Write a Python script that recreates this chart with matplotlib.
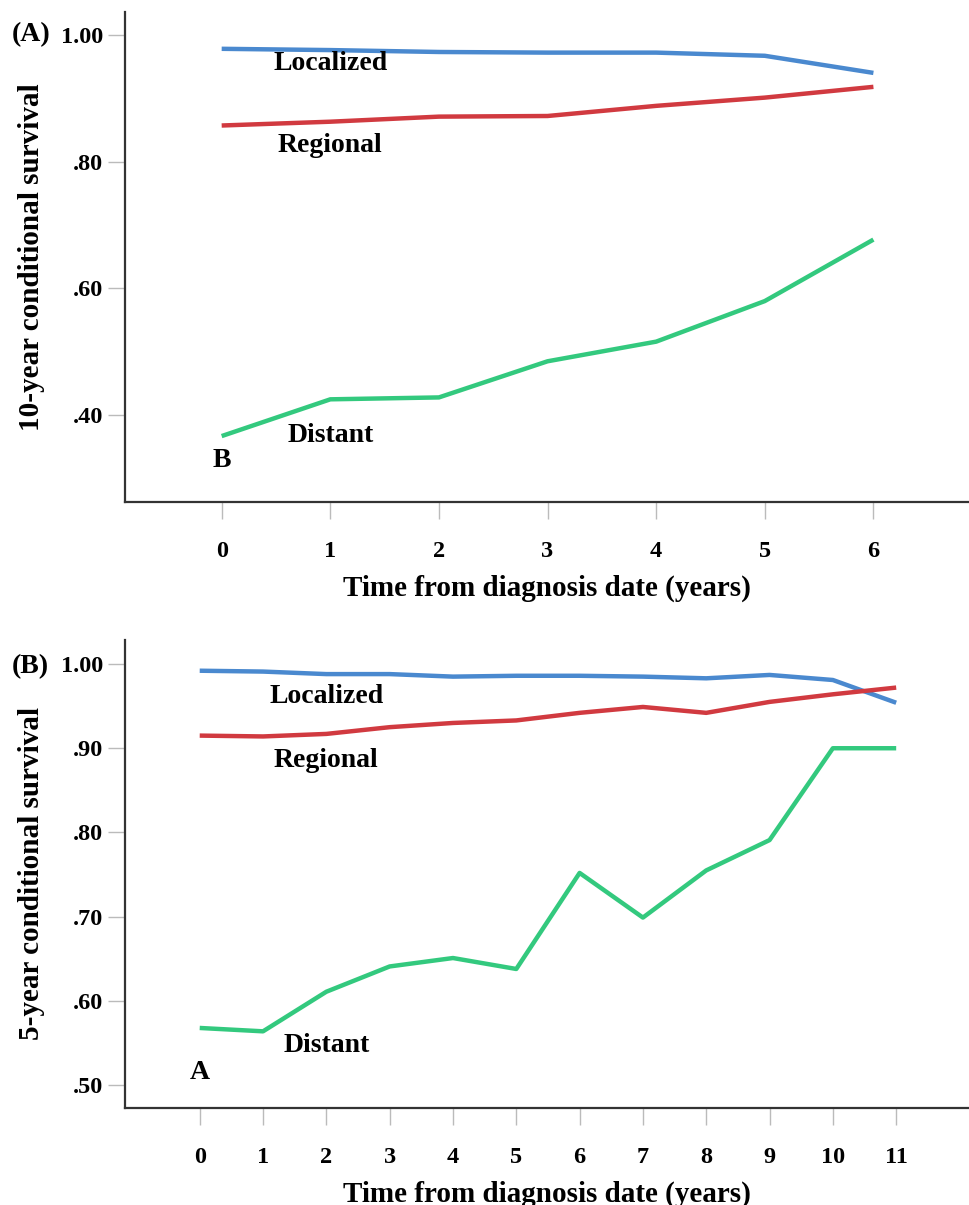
import matplotlib.pyplot as plt

plt.rcParams['font.family'] = ['Liberation Serif', 'DejaVu Serif']
plt.rcParams['font.weight'] = 'bold'

# panel A: 10-year conditional survival
years_a = [0, 1, 2, 3, 4, 5, 6]
localized_a = [0.978, 0.976, 0.973, 0.972, 0.972, 0.967, 0.940]
regional_a = [0.857, 0.863, 0.871, 0.872, 0.888, 0.901, 0.918]
distant_a = [0.367, 0.425, 0.428, 0.485, 0.516, 0.580, 0.677]
yticks_a = [0.40, 0.60, 0.80, 1.00]

# panel B: 5-year conditional survival
years_b = [0, 1, 2, 3, 4, 5, 6, 7, 8, 9, 10, 11]
localized_b = [0.992, 0.991, 0.988, 0.988, 0.985, 0.986, 0.986, 0.985, 0.983, 0.987, 0.981, 0.954]
regional_b = [0.915, 0.914, 0.917, 0.925, 0.930, 0.933, 0.942, 0.949, 0.942, 0.955, 0.964, 0.972]
distant_b = [0.568, 0.564, 0.611, 0.641, 0.651, 0.638, 0.752, 0.699, 0.755, 0.791, 0.900, 0.900]
yticks_b = [0.50, 0.60, 0.70, 0.80, 0.90, 1.00]

BLUE = '#4a89cf'
RED = '#d13a40'
GREEN = '#33c97e'


def fmt(v):
    return '1.00' if v >= 1 else ('%.2f' % v)[1:]


def draw(ax, x, loc, reg, dist, yticks, ylim, xlim, ylabel, tag, letter, lab_x, lab_y):
    ax.plot(x, loc, color=BLUE, lw=3.2, solid_capstyle='butt')
    ax.plot(x, reg, color=RED, lw=3.2, solid_capstyle='butt')
    ax.plot(x, dist, color=GREEN, lw=3.2, solid_capstyle='butt')
    ax.set_xlim(*xlim)
    ax.set_ylim(*ylim)
    ax.set_xticks(x)
    ax.set_yticks(yticks)
    ax.set_yticklabels([fmt(v) for v in yticks])
    for s in ['top', 'right']:
        ax.spines[s].set_visible(False)
    for s in ['left', 'bottom']:
        ax.spines[s].set_color('#333333')
        ax.spines[s].set_linewidth(1.6)
    ax.tick_params(axis='both', colors='#bbbbbb', labelcolor='black',
                   labelsize=17.5, length=12, width=1)
    ax.tick_params(axis='x', pad=16)
    ax.tick_params(axis='y', pad=4)
    for t in ax.get_xticklabels() + ax.get_yticklabels():
        t.set_fontweight('bold')
    ax.set_ylabel(ylabel, fontsize=21, fontweight='bold', labelpad=11)
    ax.set_xlabel('Time from diagnosis date (years)', fontsize=21,
                  fontweight='bold', labelpad=9)
    for txt, yy in zip(['Localized', 'Regional', 'Distant'], lab_y):
        ax.text(lab_x, yy, txt, fontsize=20, fontweight='bold',
                ha='center', va='center')
    ax.text(0, letter, tag[1], fontsize=20, fontweight='bold',
            ha='center', va='center')


fig = plt.figure(figsize=(9.69, 12.05), dpi=100)
ax_a = fig.add_axes([0.129, 0.5834, 0.871, 0.4066])
ax_b = fig.add_axes([0.129, 0.0805, 0.871, 0.3884])

draw(ax_a, years_a, localized_a, regional_a, distant_a, yticks_a,
     (0.263, 1.036), (-0.89, 6.88), '10-year conditional survival',
     'AB', 0.329, 1.0, (0.955, 0.825, 0.368))
draw(ax_b, years_b, localized_b, regional_b, distant_b, yticks_b,
     (0.473, 1.0285), (-1.18, 12.15), '5-year conditional survival',
     'BA', 0.515, 2.0, (0.961, 0.886, 0.547))

fig.text(12 / 969, 1 - 35 / 1205, '(A)', fontsize=20, fontweight='bold',
         ha='left', va='center')
fig.text(12 / 969, 1 - 667 / 1205, '(B)', fontsize=20, fontweight='bold',
         ha='left', va='center')

fig.savefig('out.png', dpi=100)
